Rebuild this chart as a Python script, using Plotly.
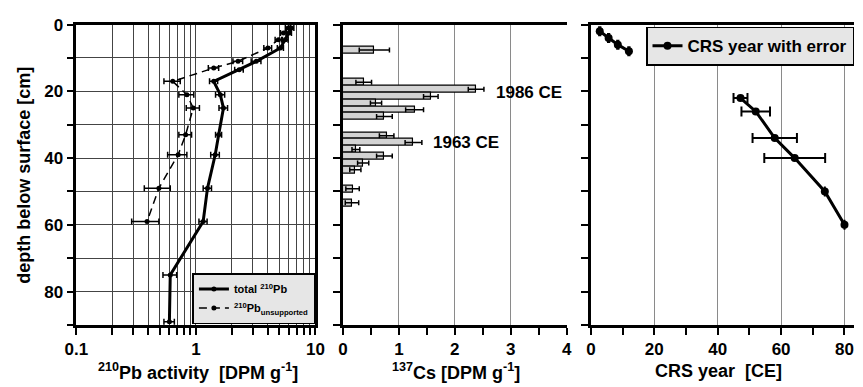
import plotly.graph_objects as go

# ---------------- data ----------------
# Panel 1: 210Pb activity [DPM g-1] vs depth [cm]
pb_total_depth = [1, 2.5, 4.5, 7, 11, 13.5, 17, 21, 25, 33, 39, 49, 59, 75, 89]
pb_total = [6.3, 6.0, 5.6, 5.1, 3.2, 2.3, 1.41, 1.6, 1.7, 1.55, 1.45, 1.25, 1.15, 0.61, 0.60]
pb_total_err = [0.3, 0.3, 0.3, 0.3, 0.3, 0.19, 0.11, 0.14, 0.14, 0.09, 0.12, 0.1, 0.09, 0.08, 0.06]

pb_unsup_depth = [1, 2.5, 4.5, 7, 11, 13, 17, 21, 25, 33, 39, 49, 59]
pb_unsup = [5.9, 5.4, 4.9, 4.0, 2.25, 1.41, 0.64, 0.84, 0.95, 0.82, 0.71, 0.49, 0.39]
pb_unsup_err = [0.3, 0.3, 0.3, 0.3, 0.21, 0.14, 0.1, 0.12, 0.12, 0.1, 0.13, 0.12, 0.1]

# Panel 2: 137Cs [DPM g-1] vs depth
cs_depth = [7.6, 17.3, 19.4, 21.5, 23.5, 25.5, 27.5, 33.3, 35.3, 37.4, 39.4, 41.5, 43.5, 49.2, 53.4]
cs_value = [0.56, 0.37, 2.38, 1.57, 0.59, 1.28, 0.74, 0.78, 1.26, 0.23, 0.74, 0.36, 0.22, 0.17, 0.16]
cs_err = [0.27, 0.14, 0.14, 0.13, 0.10, 0.16, 0.14, 0.13, 0.15, 0.07, 0.14, 0.10, 0.10, 0.12, 0.12]

# Panel 3: CRS year vs depth (None = break in the line between the two sections)
crs_depth = [2, 4, 6, 8, None, 22, 26, 34, 40, 50, 60]
crs_year = [2.8, 5.6, 8.5, 12, None, 47.2, 52, 58, 64.3, 73.8, 80]
crs_err = [0.2, 0.2, 0.2, 0.2, 0, 2.2, 4.5, 7, 9.6, 0, 0]

pb_ticks = [0.1, 0.2, 0.3, 0.4, 0.5, 0.6, 0.7, 0.8, 0.9, 1, 2, 3, 4, 5, 6, 7, 8, 9, 10]
pb_ticklabels = {0.1: "0.1", 1: "1", 10: "10"}
depth_ticks = list(range(0, 91, 10))

# ---------------- layout helpers ----------------
W, H = 863, 387
def px_x(p): return p / W
def px_y(p): return 1 - p / H

FONT = "Liberation Sans, Arial, sans-serif"
ydom = [px_y(323.5), px_y(16)]
dom1 = [px_x(66), px_x(311)]
dom2 = [px_x(339.3), px_x(568.5)]
dom3 = [px_x(593.3), 1.0]

tickfont = dict(family=FONT, size=17, color="black", weight="bold")

fig = go.Figure()

fig.add_trace(go.Scatter(
    x=pb_total, y=pb_total_depth, mode="lines+markers",
    name="total <sup>210</sup>Pb",
    line=dict(color="black", width=3),
    marker=dict(color="black", size=5),
    error_x=dict(type="data", array=pb_total_err, color="black", thickness=1.5, width=3),
    xaxis="x", yaxis="y", legend="legend",
))
fig.add_trace(go.Scatter(
    x=pb_unsup, y=pb_unsup_depth, mode="lines+markers",
    name="<sup>210</sup>Pb<sub>unsupported</sub>",
    line=dict(color="black", width=1.5, dash="8px,5px"),
    marker=dict(color="black", size=5),
    error_x=dict(type="data", array=pb_unsup_err, color="black", thickness=1.5, width=3),
    xaxis="x", yaxis="y", legend="legend",
))

fig.add_trace(go.Bar(
    x=cs_value, y=cs_depth, orientation="h", width=2,
    marker=dict(color="#d3d3d3", line=dict(color="black", width=1.2)),
    error_x=dict(type="data", array=cs_err, color="black", thickness=1.5, width=2.5),
    xaxis="x2", yaxis="y2", showlegend=False,
))

fig.add_trace(go.Scatter(
    x=crs_year, y=crs_depth, mode="lines+markers",
    name="CRS year with error", connectgaps=False,
    line=dict(color="black", width=3),
    marker=dict(color="black", size=8),
    error_x=dict(type="data", array=crs_err, color="black", thickness=2, width=5),
    xaxis="x3", yaxis="y3", legend="legend2",
))

axis_common = dict(showline=True, linecolor="black", linewidth=2.5, zeroline=False,
                   ticks="outside", ticklen=7, tickwidth=1.5, tickcolor="black",
                   tickfont=tickfont)

fig.update_layout(
    width=W, height=H,
    margin=dict(l=0, r=0, t=0, b=0),
    paper_bgcolor="white", plot_bgcolor="white",
    font=dict(family=FONT, color="black", weight="bold"),
    bargap=0,
    xaxis=dict(domain=dom1, type="log", range=[-1, 1], anchor="y",
               tickmode="array", tickvals=pb_ticks,
               ticktext=[pb_ticklabels.get(v, "") for v in pb_ticks],
               showgrid=True, gridcolor="#444444", gridwidth=1, mirror=True,
               **axis_common),
    yaxis=dict(domain=ydom, range=[90, 0], anchor="x",
               tickmode="array", tickvals=depth_ticks,
               ticktext=[str(v) if v % 20 == 0 and v < 90 else "" for v in depth_ticks],
               showgrid=True, gridcolor="#444444", gridwidth=1, mirror=True,
               **axis_common),
    xaxis2=dict(domain=dom2, range=[0, 4], anchor="y2",
                tickmode="linear", tick0=0, dtick=1,
                showgrid=True, gridcolor="#8a8a8a", gridwidth=1, mirror=True,
                minor=dict(tickmode="linear", tick0=0, dtick=0.5, ticks="outside",
                           ticklen=7, tickwidth=1.5, tickcolor="black", showgrid=False),
                **axis_common),
    yaxis2=dict(domain=ydom, range=[90, 0], anchor="x2",
                tickmode="array", tickvals=depth_ticks, showticklabels=False,
                showgrid=False, **axis_common),
    xaxis3=dict(domain=dom3, range=[0, 83], anchor="y3",
                tickmode="linear", tick0=0, dtick=20,
                showgrid=True, gridcolor="#8a8a8a", gridwidth=1, mirror=True,
                minor=dict(tickmode="linear", tick0=0, dtick=10, ticks="outside",
                           ticklen=7, tickwidth=1.5, tickcolor="black", showgrid=False),
                **axis_common),
    yaxis3=dict(domain=ydom, range=[90, 0], anchor="x3",
                tickmode="array", tickvals=depth_ticks, showticklabels=False,
                showgrid=False, **axis_common),
    legend=dict(x=px_x(311), xanchor="right", y=px_y(322.5), yanchor="bottom",
                bgcolor="#e6e6e6", bordercolor="black", borderwidth=1.5,
                font=dict(family=FONT, size=11, color="black", weight="bold"),
                tracegroupgap=0, itemwidth=30),
    legend2=dict(x=1.0, xanchor="right", y=px_y(18), yanchor="top",
                 bgcolor="#e6e6e6", bordercolor="black", borderwidth=1.5,
                 font=dict(family=FONT, size=17, color="black", weight="bold"),
                 itemwidth=30),
)

ann_font = dict(family=FONT, size=17, color="black", weight="bold")
title_font = dict(family=FONT, size=18, color="black", weight="bold")
fig.add_annotation(x=2.70, y=20.2, xref="x2", yref="y2", text="1986 CE",
                   showarrow=False, xanchor="left", yanchor="middle", font=ann_font)
fig.add_annotation(x=1.58, y=35.4, xref="x2", yref="y2", text="1963 CE",
                   showarrow=False, xanchor="left", yanchor="middle", font=ann_font)

fig.add_annotation(x=px_x(191), y=px_y(371), xref="paper", yref="paper",
                   text="<sup>210</sup>Pb activity  [DPM g<sup>-1</sup>]",
                   showarrow=False, xanchor="center", yanchor="middle", font=title_font)
fig.add_annotation(x=px_x(455), y=px_y(371), xref="paper", yref="paper",
                   text="<sup>137</sup>Cs [DPM g<sup>-1</sup>]",
                   showarrow=False, xanchor="center", yanchor="middle", font=title_font)
fig.add_annotation(x=px_x(724), y=px_y(371), xref="paper", yref="paper",
                   text="CRS year  [CE]",
                   showarrow=False, xanchor="center", yanchor="middle", font=title_font)
fig.add_annotation(x=px_x(12), y=px_y(170), xref="paper", yref="paper",
                   text="depth below surface [cm]", textangle=-90,
                   showarrow=False, xanchor="center", yanchor="middle", font=title_font)

fig.write_html("out.html")
